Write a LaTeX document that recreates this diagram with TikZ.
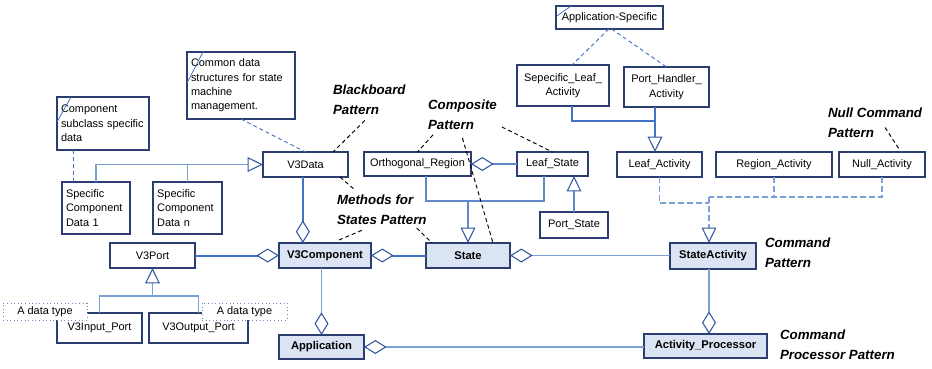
\documentclass[tikz,border=0pt]{standalone}
\usepackage{fontspec}
\setmainfont{Liberation Sans}
\usetikzlibrary{arrows.meta,calc}

\definecolor{boxline}{RGB}{44,62,112}
\definecolor{boxfill}{RGB}{219,228,243}
\definecolor{link}{RGB}{68,114,196}
\definecolor{linklight}{RGB}{122,160,214}
\definecolor{linkmid}{RGB}{96,136,202}
\definecolor{tipline}{RGB}{52,88,158}
\definecolor{notedot}{RGB}{110,138,186}

\begin{document}
\begin{tikzpicture}[x=0.75pt,y=-0.75pt,
  every node/.style={inner sep=0pt, outer sep=0pt},
  lbl/.style={font=\fontsize{8.2}{10.8}\selectfont},
  cls/.style 2 args={draw=boxline, line width=0.85pt, fill=white,
    minimum width=#1*0.75pt, minimum height=#2*0.75pt, align=center, lbl},
  key/.style 2 args={cls={#1}{#2}, fill=boxfill,
    font=\fontsize{8.4}{10}\selectfont\bfseries},
  note/.style={align=left, inner xsep=2.5pt},
  dtype/.style 2 args={draw=notedot, dotted, line width=0.7pt, fill=white,
    minimum width=#1*0.75pt, minimum height=#2*0.75pt, lbl},
  pat/.style={anchor=north west, align=left,
    font=\fontsize{10}{14.8}\selectfont\bfseries\itshape},
  gentip/.style={-{Triangle[open, length=11.5pt, width=11pt, line width=0.8pt, color=tipline]}},
  aggtip/.style={-{Diamond[open, length=17pt, width=10.5pt, line width=0.8pt, color=tipline]}},
  thickln/.style={draw=link, line width=1.5pt},
  midln/.style={draw=linkmid, line width=1.05pt},
  lightln/.style={draw=linklight, line width=1.05pt},
  thinln/.style={draw=linklight, line width=0.8pt},
  notelink/.style={draw=link, line width=0.7pt, dash pattern=on 3pt off 2.2pt},
  realize/.style={draw=linklight, line width=0.9pt, dash pattern=on 4.5pt off 2.2pt},
  patlink/.style={draw=black, line width=0.7pt, dash pattern=on 3pt off 2.2pt},
  ear/.style={draw=link, line width=0.6pt}
]
\fill[white] (0,0) rectangle (932,368);
\useasboundingbox (0,0) rectangle (932,368);

% ---------- notes ----------
\node[cls={92}{53}, note, text width=63pt] (note1) at (103,123.5)
  {Component\\subclass specific\\data};
\node[cls={108}{67}, note, text width=75pt] (note2) at (241,85.5)
  {Common data\\structures for state\\machine\\management.};
\node[cls={107}{23}] (appspec) at (609.5,17.5) {Application-Specific};

% ---------- classes ----------
\node[cls={68}{52}, note, text width=45pt] (data1) at (96,208)
  {Specific\\Component\\Data 1};
\node[cls={69}{52}, note, text width=45.5pt] (datan) at (187.5,208)
  {Specific\\Component\\Data n};
\node[cls={85}{25}] (v3data) at (305.5,164.5) {V3Data};
\node[cls={107}{24}] (orth) at (417.5,164) {Orthogonal\_Region};
\node[cls={71}{24}] (leafstate) at (552.5,164) {Leaf\_State};
\node[cls={68}{26}] (portstate) at (574,225) {Port\_State};
\node[cls={92}{41}] (sepleaf) at (563,85.5) {Sepecific\_Leaf\_\\Activity};
\node[cls={85}{40}] (porthandler) at (666.5,87) {Port\_Handler\_\\Activity};
\node[cls={85}{25}] (leafact) at (659.5,164.5) {Leaf\_Activity};
\node[cls={116}{25}] (regionact) at (774,164.5) {Region\_Activity};
\node[cls={86}{25}] (nullact) at (882,164.5) {Null\_Activity};
\node[cls={85}{25}] (v3port) at (152.5,255.5) {V3Port};
\node[cls={85}{30}] (v3in) at (99.5,328) {V3Input\_Port};
\node[cls={99}{30}] (v3out) at (198.5,328) {V3Output\_Port};

\node[key={92}{25}] (v3comp) at (325,255.5) {V3Component};
\node[key={84}{25}] (state) at (468,255.5) {State};
\node[key={86}{26}] (stateact) at (713,256) {StateActivity};
\node[key={85}{24}] (app) at (321.5,347) {Application};
\node[key={123}{24}] (actproc) at (705.5,346) {Activity\_Processor};

% folded-corner marks of the notes
\draw[ear] ([yshift=-18.75pt]note1.north west) -- ([xshift=10.5pt]note1.north west);
\draw[ear] ([yshift=-23.25pt]note2.north west) -- ([xshift=12pt]note2.north west);
\draw[ear] ([xshift=0.75pt,yshift=-7.5pt]appspec.north west) -- ([xshift=11.25pt]appspec.north west);

% ---------- note links ----------
\draw[notelink] ([xshift=-22.5pt]note1.south) -- ([xshift=8.25pt]data1.north west);
\draw[notelink] (note2.south) -- (v3data.north);
\draw[notelink] ([xshift=-0.5pt]appspec.south) -- ([xshift=6.75pt]sepleaf.north);
\draw[notelink] ([xshift=1.5pt]appspec.south) -- (porthandler.north);

% ---------- generalizations ----------
\draw[lightln, gentip] (data1.north) |- (v3data.west);
\draw[lightln] (datan.north) -- (datan.north |- v3data.west);

\coordinate (pj) at (152.5,296);
\draw[thinln] (v3in.north) |- (pj) -| (v3out.north);
\draw[thinln, gentip] (pj) -- (v3port.south);

\coordinate (sj) at (468,201);
\draw[midln] ([xshift=6.4pt]orth.south) |- (sj) -| ([xshift=-6.4pt]leafstate.south);
\draw[midln, gentip] (sj) -- (state.north);
\draw[midln, gentip] (portstate.north) -- (portstate.north |- leafstate.south);

\coordinate (lj) at (655,121);
\draw[thickln] ([xshift=6.75pt]sepleaf.south) |- (lj);
\draw[thickln, gentip] (porthandler.south -| lj) -- (lj |- leafact.north);

% ---------- realizations of StateActivity ----------
\coordinate (aj) at (709,197);
\coordinate (ak) at (709,203);
\draw[realize] (nullact.south) |- (aj);
\draw[realize] (regionact.south) -- (regionact.south |- aj);
\draw[realize] (leafact.south) |- (ak);
\draw[realize, gentip] (aj) -- (aj |- stateact.north);

% ---------- aggregations ----------
\draw[thickln, aggtip] ([xshift=-2pt]v3data.south) -- ([xshift=-2pt]v3data.south |- v3comp.north);
\draw[thickln, aggtip] (v3port.east) -- (v3comp.west);
\draw[thickln, aggtip] (state.west) -- (v3comp.east);
\draw[midln, aggtip] (leafstate.west) -- (orth.east);
\draw[thinln, aggtip] (stateact.west |- state.east) -- (state.east);
\draw[thinln, aggtip] (v3comp.south -| app.north) -- (app.north);
\draw[thinln, aggtip] (actproc.west |- app.east) -- (app.east);
\draw[thinln, aggtip] ([xshift=-3pt]stateact.south) -- ([xshift=-3pt]stateact.south |- actproc.north);

% ---------- data type notes on the ports ----------
\node[dtype={84}{17}] (dt1) at (45,311.5) {A data type};
\node[dtype={85}{17}] (dt2) at (244.5,311.5) {A data type};

% ---------- pattern labels ----------
\node[pat] (bb) at (333,85) {Blackboard\\Pattern};
\node[pat] (cp) at (428,100) {Composite\\Pattern};
\node[pat] (ms) at (337,195) {Methods for\\States Pattern};
\node[pat] (ncp) at (828,108) {Null Command\\Pattern};
\node[pat] (cmd) at (765,238) {Command\\Pattern};
\node[pat] (cpp) at (780,330) {Command\\Processor Pattern};

\draw[patlink] ([xshift=-3.4pt,yshift=-4.5pt]bb.south) -- ([xshift=-11.25pt]v3data.north east);
\draw[patlink] ([xshift=3.75pt,yshift=-4pt]cp.south west) -- (orth.north);
\draw[patlink] ([yshift=-6.4pt]cp.south) -- ([xshift=-12.75pt]state.north east);
\draw[patlink] ([xshift=3.75pt,yshift=1.9pt]cp.south east) -- (leafstate.north);
\draw[patlink] ([xshift=-6pt]v3data.south east) -- ([xshift=13.5pt,yshift=3.75pt]ms.north west);
\draw[patlink] ([xshift=10.5pt,yshift=2.25pt]v3comp.north) -- ([xshift=19.5pt,yshift=-4pt]ms.south west);
\draw[patlink] ([xshift=-7.5pt,yshift=-2.6pt]ms.south east) -- ([xshift=4.5pt]state.north west);
\draw[patlink] ([xshift=-27.75pt,yshift=7.5pt]ncp.south east) -- ([xshift=12.75pt,yshift=2.25pt]nullact.north);
\end{tikzpicture}
\end{document}
